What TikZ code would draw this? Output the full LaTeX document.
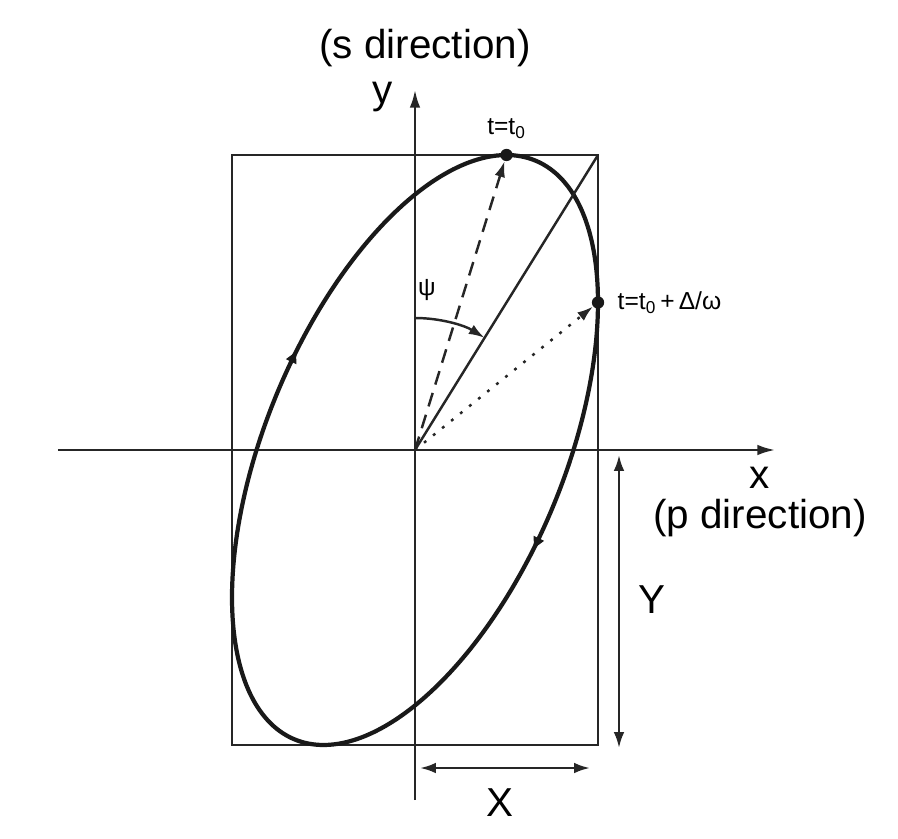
\documentclass[tikz,border=0pt]{standalone}
\usepackage{fontspec}
\setmainfont{Liberation Sans}
\usetikzlibrary{arrows.meta}
\usetikzlibrary{positioning}
\usetikzlibrary{calc}

\begin{document}
\begin{tikzpicture}
    [
    x=0.02cm, y=0.02cm, font=\fontsize{23}{27}\selectfont, >=latex,
    %Voreinstellungen
    achse/.style={line width=1.4pt, black!85},
    kurve/.style={line width=2.4pt, black!90},
    punkt/.style={circle, fill=black!90, inner sep=0pt, minimum size=7pt},
    klein/.style={font=\fontsize{14}{16}\selectfont}
    ]
    
    %Rahmen des Bildes
    \useasboundingbox (-415,-388) rectangle (483,450);
    
    %Ursprung und Punkte auf der Ellipse
    \coordinate (O) at (0,0);
    \coordinate (ecke) at (183,295);
    \node[punkt] (tnull) at (91.5,295) {};
    \node[punkt] (teins) at (183,147.5) {};
    
    %Rechteck
    \draw[achse, line width=1.2pt] (-183,-295) rectangle (ecke);
    
    %x Achse
    \draw[achse, -{Latex[length=10pt,width=6pt]}] (-357,0) -- (360,0);
    \node (xlab) at (345,-28) {x};
    \node (plab) at (345,-68) {(p direction)};
    
    %y Achse
    \draw[achse, -{Latex[length=10pt,width=6pt]}] (0,-350) -- (0,360);
    \node (ylab) at (-32,353) {y};
    \node (slab) at (10,402) {(s direction)};
    
    %Ellipse
    \draw[kurve] plot[domain=0:360, samples=120, smooth cycle]
    ({183*cos(\x)}, {295*cos(\x-60)});
    
    %Umlaufrichtung
    \foreach \w in {130,310}
    \draw[kurve, -{Latex[length=8pt,width=7pt]}]
    ({183*cos(\w+2)}, {295*cos(\w+2-60)}) -- ({183*cos(\w)}, {295*cos(\w-60)});
    
    %Hauptachse
    \draw[achse] (O) -- (ecke);
    
    %Zeiger
    \draw[achse, dash pattern=on 8pt off 5pt, -{Latex[length=9pt,width=6pt]}] (O) -- (tnull);
    \draw[achse, dash pattern=on 1.6pt off 5pt, -{Latex[length=9pt,width=6pt]}] (O) -- (teins);
    \node[klein, above=2pt of tnull] (tnulllab) {t=t\textsubscript{0}};
    \node[klein, right=4pt of teins] (teinslab) {t=t\textsubscript{0}\,+\,Δ/ω};
    
    %Winkel psi
    \draw[achse, -{Latex[length=9pt,width=6pt]}] (0,132) arc (90:58.2:132);
    \node[klein] (psilab) at (12,160) {ψ};
    
    %Masse X und Y
    \coordinate (yoben) at (204,-5);
    \coordinate (yunten) at (204,-298);
    \draw[achse, {Latex[length=9pt,width=6pt]}-{Latex[length=9pt,width=6pt]}] (yoben) -- (yunten);
    \node (ylang) at (237,-150) {Y};
    \coordinate (xlinks) at (5,-318);
    \coordinate (xrechts) at (175,-318);
    \draw[achse, {Latex[length=9pt,width=6pt]}-{Latex[length=9pt,width=6pt]}] (xlinks) -- (xrechts);
    \node (xlang) at (85,-353) {X};
\end{tikzpicture}
\end{document}
